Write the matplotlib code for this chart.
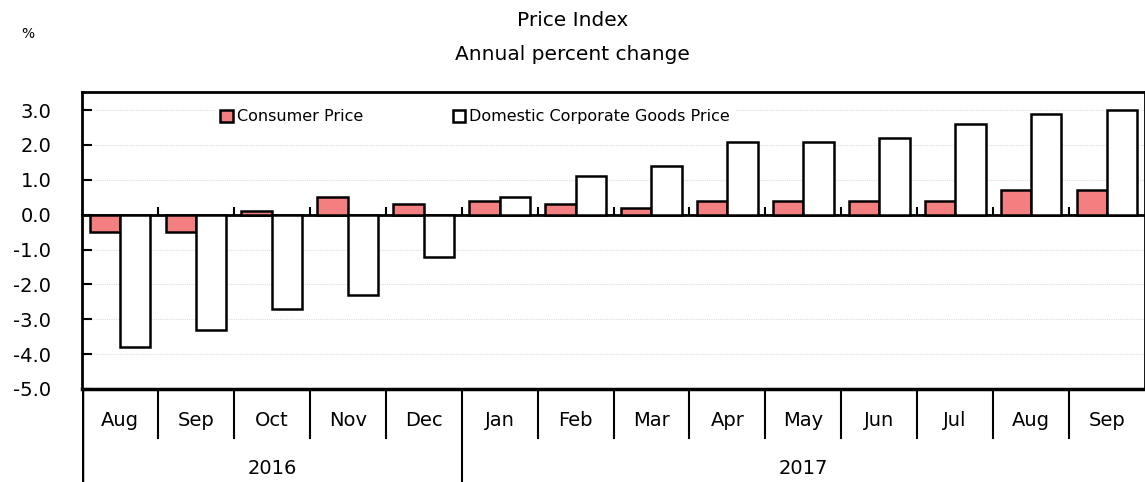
import matplotlib.pyplot as plt
import numpy as np

plt.rcParams['font.family'] = ['DejaVu Sans']

months = ['Aug', 'Sep', 'Oct', 'Nov', 'Dec', 'Jan', 'Feb', 'Mar', 'Apr', 'May', 'Jun', 'Jul', 'Aug', 'Sep']
years = ['2016', '2017']
year_counts = [5, 9]
consumer = [-0.5, -0.5, 0.1, 0.5, 0.3, 0.4, 0.3, 0.2, 0.4, 0.4, 0.4, 0.4, 0.7, 0.7]
corporate = [-3.8, -3.3, -2.7, -2.3, -1.2, 0.5, 1.1, 1.4, 2.1, 2.1, 2.2, 2.6, 2.9, 3.0]
yticks = [3.0, 2.0, 1.0, 0.0, -1.0, -2.0, -3.0, -4.0, -5.0]

fig = plt.figure(figsize=(11.45, 4.82), dpi=100)
ax = fig.add_axes([82 / 1145, 1 - 389 / 482, 1 - 82 / 1145, (389 - 92) / 482])

x = np.arange(len(months))
w = 0.4
ax.bar(x - w / 2, consumer, w, color='#F37F81', edgecolor='black', linewidth=1.8,
       label='Consumer Price', zorder=3)
ax.bar(x + w / 2, corporate, w, color='white', edgecolor='black', linewidth=1.8,
       label='Domestic Corporate Goods Price', zorder=3)

ax.set_xlim(-0.5, len(months) - 0.5)
ax.set_ylim(-5.0, 3.52)
ax.set_yticks(yticks)
ax.set_yticklabels(['%.1f' % v for v in yticks], fontsize=14)
ax.tick_params(axis='y', direction='in', length=7, width=1.5, pad=22)
for v in yticks[:-1]:
    if v != 0:
        ax.axhline(v, color='#dddddd', lw=0.8, ls=(0, (1, 1)), zorder=1)

# x axis at zero with small ticks between months
ax.spines['bottom'].set_position(('data', 0))
ax.spines['bottom'].set_linewidth(2)
ax.set_xticks(x[:-1] + 0.5)
ax.set_xticklabels([])
ax.tick_params(axis='x', direction='in', length=6, width=1.5)
for s in ['top', 'left', 'right']:
    ax.spines[s].set_linewidth(2)
ax.axhline(-5.0, color='black', lw=2.5, clip_on=False, zorder=4)

leg = ax.legend(loc='upper left', bbox_to_anchor=(0.118, 0.985), ncol=2, fontsize=11.5,
                handlelength=0.8, handleheight=0.8, handletextpad=0.25,
                columnspacing=5.6, frameon=True, fancybox=False, borderpad=0.3)
leg.get_frame().set_edgecolor('none')
leg.get_frame().set_facecolor('white')
leg.get_frame().set_alpha(1)

# category axis below
cax = fig.add_axes([82 / 1145, 0, 1 - 82 / 1145, 93 / 482])
cax.set_xlim(-0.5, len(months) - 0.5)
cax.set_ylim(0, 1)
cax.axis('off')
for i, m in enumerate(months):
    cax.text(i, 0.66, m, ha='center', va='center', fontsize=14)
bounds = np.cumsum(year_counts)
for b in x[:-1] + 0.5:
    if b + 0.5 in bounds:
        cax.plot([b, b], [0, 1], color='black', lw=1.5)
    else:
        cax.plot([b, b], [0.47, 1], color='black', lw=1.5)
cax.plot([-0.5, -0.5], [0, 1], color='black', lw=2.5)
start = 0
for yr, n in zip(years, year_counts):
    cax.text(start + (n - 1) / 2, 0.15, yr, ha='center', va='center', fontsize=14)
    start += n

fig.text(0.5, 1 - 21 / 482, 'Price Index', ha='center', va='center', fontsize=14.5)
fig.text(0.5, 1 - 55 / 482, 'Annual percent change', ha='center', va='center', fontsize=14.5)
fig.text(28 / 1145, 1 - 34 / 482, '%', ha='center', va='center', fontsize=10)

fig.savefig('out.png', dpi=100)
